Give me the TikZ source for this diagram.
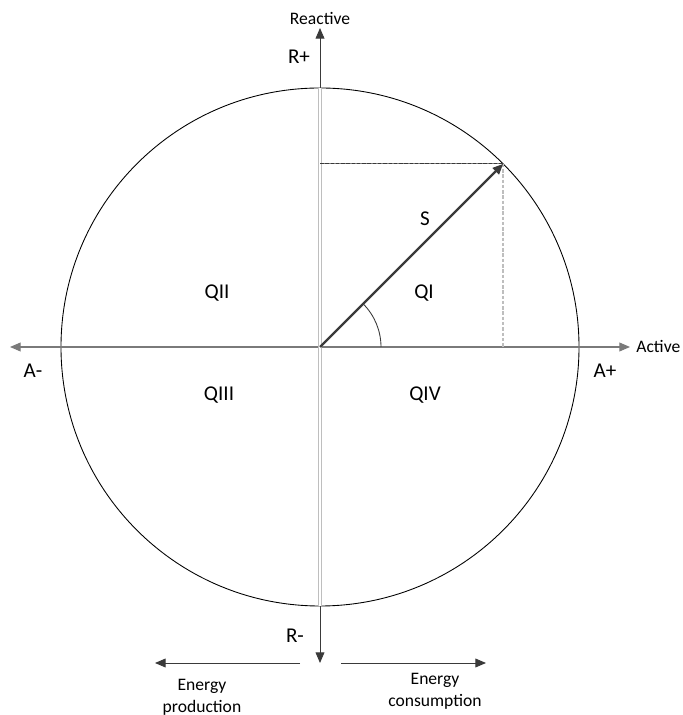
\documentclass[tikz,border=0pt]{standalone}
\usepackage{fontspec}
\setmainfont{Carlito}
\usetikzlibrary{arrows.meta, calc, positioning}
\definecolor{AxisGray}{HTML}{7A7A7A}
\definecolor{PaleGray}{HTML}{BEBEBE}
\definecolor{DarkArrow}{HTML}{3A3A3A}

\begin{document}
\begin{tikzpicture}[x=0.02cm, y=0.02cm, font=\fontsize{12}{14}\selectfont,
    tip/.style={-{Triangle[length=6pt, width=5pt]}},
    small/.style={font=\fontsize{10}{12.5}\selectfont}]
    \useasboundingbox (-320,-368) rectangle (362,347);
    \def\r{259}
    \def\ang{45}
    \coordinate (O) at (0,0);
    \coordinate (P) at (\ang:\r);
    \coordinate (Px) at (P |- O);
    \coordinate (Py) at (P -| O);
    \coordinate (top) at (0,319);
    \coordinate (bot) at (0,-316);
    \coordinate (left) at (-310,0);
    \coordinate (right) at (310,0);
    % circle and axes
    \draw[black, line width=0.5pt] (O) circle (\r);
    \draw[AxisGray, line width=0.6pt, tip] (O) -- (left);
    \draw[AxisGray, line width=0.6pt, tip] (O) -- (right);
    \draw[DarkArrow, line width=0.5pt, tip] (O) -- (top);
    \draw[DarkArrow, line width=0.5pt, tip] (O) -- (bot);
    \draw[PaleGray, line width=0.7pt, double=white, double distance=0.7pt] (0,\r) -- (0,-\r);
    % projections of S
    \draw[AxisGray, line width=0.6pt] (Py) -- (P);
    \draw[DarkArrow, line width=0.6pt, dashed, dash pattern=on 2pt off 1pt] (Py) -- (P);
    \draw[PaleGray, line width=1.2pt, dashed, dash pattern=on 2pt off 1pt] (P) -- (Px);
    % apparent power
    \draw[DarkArrow, line width=1.4pt, tip] (O) -- (P);
    \draw[DarkArrow, line width=0.5pt] (61,0) arc (0:\ang:61);
    % labels
    \node[small] (reactive) at (0,328) {Reactive};
    \node (rplus) at (-21,290) {R+};
    \node (rminus) at (-25,-289) {R-};
    \node (aminus) at (-287,-24) {A-};
    \node (aplus) at (285,-24) {A+};
    \node[small, anchor=west, inner sep=0pt] (active) at (316,1) {Active};
    \node (s) at (105,128) {S};
    \node (q1) at (104,54) {QI};
    \node (q2) at (-103,54) {QII};
    \node (q3) at (-101,-48) {QIII};
    \node (q4) at (105,-48) {QIV};
    % energy flow
    \coordinate (prodA) at (-20,-316);
    \coordinate (prodB) at (-165,-316);
    \coordinate (consA) at (21,-316);
    \coordinate (consB) at (166,-316);
    \draw[DarkArrow, line width=0.5pt, tip] (prodA) -- (prodB);
    \draw[DarkArrow, line width=0.5pt, tip] (consA) -- (consB);
    \node[small, align=center] (prod) at (-118,-350) {Energy\\production};
    \node[small, align=center] (cons) at (115,-344) {Energy\\consumption};
\end{tikzpicture}
\end{document}
